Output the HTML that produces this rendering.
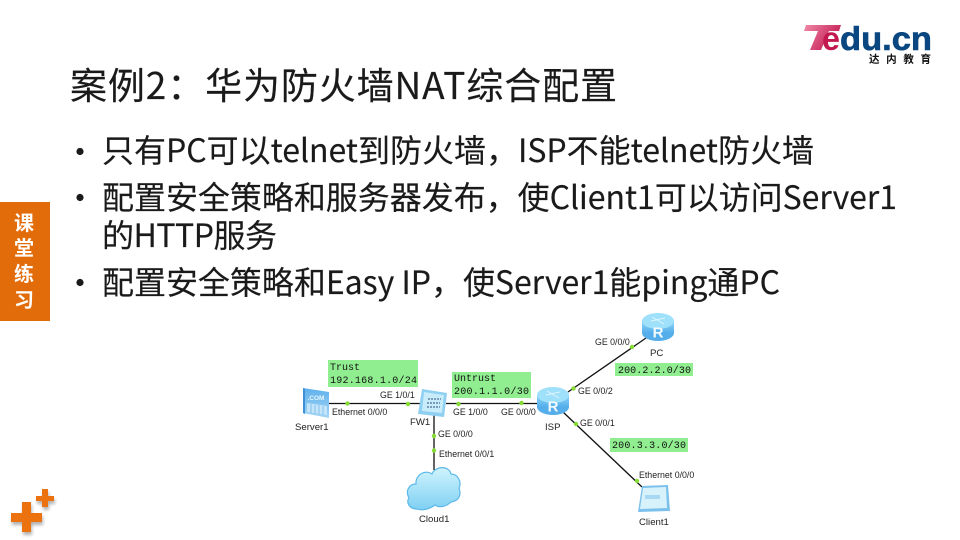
<!DOCTYPE html>
<html lang="zh"><head><meta charset="utf-8"><title>案例2：华为防火墙NAT综合配置</title>
<style>html,body{margin:0;padding:0;background:#fff}svg{display:block}
.c{font-family:"Noto Sans CJK SC","Liberation Sans",sans-serif;fill:#1a1a1a;stroke:#1a1a1a;stroke-width:.15}
.l{font-family:"Liberation Sans",sans-serif;font-size:8.8px;fill:#222}
.n{font-family:"Liberation Sans",sans-serif;font-size:9.6px;fill:#222}
.m{font-family:"Liberation Mono",monospace;font-size:10px;fill:#111}
.w{font-family:"Noto Sans CJK SC",sans-serif;font-size:20px;font-weight:700;fill:#fff}
</style></head><body>
<svg width="960" height="540" viewBox="0 0 960 540" xmlns="http://www.w3.org/2000/svg">
<defs>
<linearGradient id="t" x1="0" y1="0" x2="1" y2="0.5"><stop offset="0" stop-color="#f08aa8"/><stop offset="1" stop-color="#c2184f"/></linearGradient>
<linearGradient id="r" x1="0" y1="0" x2="0" y2="1"><stop offset="0" stop-color="#8fd6f8"/><stop offset="1" stop-color="#55aeea"/></linearGradient>
<linearGradient id="cl" x1="0" y1="0" x2="0" y2="1"><stop offset="0" stop-color="#d0f4fd"/><stop offset="1" stop-color="#7fd0f3"/></linearGradient>
<linearGradient id="sv" x1="0" y1="0" x2="0" y2="1"><stop offset="0" stop-color="#5fb0ec"/><stop offset="1" stop-color="#a5d6f6"/></linearGradient>
<filter id="b" x="-30%" y="-30%" width="160%" height="160%"><feGaussianBlur stdDeviation="1.6"/></filter>
<g id="router"><ellipse cx="16" cy="20" rx="16" ry="8" fill="#55aeea"/><rect x="0" y="8" width="32" height="12" fill="url(#r)"/><ellipse cx="16" cy="8" rx="16" ry="8" fill="#9fe0fa"/><path d="M9 8l14-3M10 4l12 7" stroke="#dff5fe" stroke-width="1" fill="none"/><text x="16" y="24.5" text-anchor="middle" font-family="Liberation Sans,sans-serif" font-weight="700" font-size="15" fill="#f4fbff">R</text></g>
</defs>
<rect width="960" height="540" fill="#fff"/>

<!-- logo -->
<path d="M806 25H841L839 31H829L821 50H810L818 31H804Z" fill="url(#t)"/>
<text x="822" y="50" font-family="Liberation Sans,sans-serif" font-size="33" font-weight="700" fill="#c2184f" textLength="18" lengthAdjust="spacingAndGlyphs">e</text>
<text x="840" y="50" font-family="Liberation Sans,sans-serif" font-size="33" font-weight="700" fill="#0a4680" stroke="#0a4680" stroke-width=".6" textLength="92" lengthAdjust="spacingAndGlyphs">du.cn</text>
<text x="869" y="62.5" font-family="Noto Sans CJK SC,sans-serif" font-size="10.5" font-weight="700" fill="#111" textLength="62">达内教育</text>

<!-- title -->
<text class="c" x="70" y="99" font-size="37" textLength="547">案例2：华为防火墙NAT综合配置</text>

<!-- bullets -->
<circle cx="80" cy="151.5" r="3.6" fill="#1a1a1a"/>
<circle cx="80" cy="197.5" r="3.6" fill="#1a1a1a"/>
<circle cx="80" cy="282.5" r="3.6" fill="#1a1a1a"/>
<g font-size="32">
<text class="c" x="102" y="162" textLength="712">只有PC可以telnet到防火墙，ISP不能telnet防火墙</text>
<text class="c" x="102" y="209" textLength="795">配置安全策略和服务器发布，使Client1可以访问Server1</text>
<text class="c" x="102" y="247" textLength="175">的HTTP服务</text>
<text class="c" x="102" y="294" textLength="678">配置安全策略和Easy IP，使Server1能ping通PC</text>
</g>

<!-- side tab -->
<rect x="0" y="202" width="50" height="119" fill="#e36c0a"/>
<text class="w" x="24" y="230" text-anchor="middle">课</text>
<text class="w" x="24" y="255" text-anchor="middle">堂</text>
<text class="w" x="24" y="281" text-anchor="middle">练</text>
<text class="w" x="24" y="307" text-anchor="middle">习</text>

<!-- plus icons -->
<g fill="#000" opacity=".3" filter="url(#b)" transform="translate(1,3)">
<path d="M22 502h9v11h11v9H31v10h-9V522H11v-9h11z"/>
<path d="M42 489h6v7h6v5h-6v6h-6v-6h-6v-5h6z"/>
</g>
<path d="M22 502h9v11h11v9H31v10h-9V522H11v-9h11z" fill="#ec7210"/>
<path d="M42 489h6v7h6v5h-6v6h-6v-6h-6v-5h6z" fill="#ec7210"/>

<!-- green boxes -->
<rect x="328" y="360" width="90" height="27" fill="#90ee90"/>
<rect x="452" y="372" width="79" height="26" fill="#90ee90"/>
<rect x="615" y="363" width="78" height="13" fill="#90ee90"/>
<rect x="610" y="438" width="78" height="14" fill="#90ee90"/>
<text class="m" x="330" y="370">Trust</text>
<text class="m" x="330" y="383" textLength="87">192.168.1.0/24</text>
<text class="m" x="454" y="381">Untrust</text>
<text class="m" x="454" y="394" textLength="75">200.1.1.0/30</text>
<text class="m" x="618" y="373" textLength="73">200.2.2.0/30</text>
<text class="m" x="612" y="448" textLength="74">200.3.3.0/30</text>

<!-- links -->
<g stroke="#111" stroke-width="1.3" fill="none">
<line x1="329" y1="403.5" x2="420" y2="403.5"/>
<line x1="446" y1="403.5" x2="540" y2="403.5"/>
<line x1="434" y1="415" x2="434" y2="470"/>
<line x1="568" y1="392" x2="646" y2="338"/>
<line x1="563" y1="412" x2="642" y2="487"/>
</g>
<g fill="#86dc35">
<circle cx="347.5" cy="403.5" r="2.2"/><circle cx="408" cy="404" r="2.2"/><circle cx="458.5" cy="404" r="2.2"/><circle cx="521.5" cy="403" r="2.2"/>
<circle cx="434" cy="436" r="2.2"/><circle cx="434" cy="450.5" r="2.2"/><circle cx="573.5" cy="388.5" r="2.2"/><circle cx="632" cy="347" r="2.2"/><circle cx="576" cy="424" r="2.2"/><circle cx="637" cy="481" r="2.2"/>
</g>

<!-- server -->
<path d="M303 388l26 4v26l-26-5z" fill="url(#sv)"/><path d="M303 388l2 1v25l-2-1z" fill="#3e8fd6"/>
<text x="316" y="400" text-anchor="middle" font-family="Liberation Sans,sans-serif" font-weight="700" font-size="6.5" fill="#e6f5ff">.COM</text>
<path d="M307 403l20 3v9l-20-3z" fill="#c4e4f9"/>
<path d="M311 404v9M315 405v9M319 405v9M323 406v9" stroke="#74b8ea" stroke-width=".8"/>

<!-- firewall -->
<path d="M422 389l25 4-3 24-26-3z" fill="#8fcff2"/>
<path d="M424 392l20 3-2 18-20-2z" fill="#c8ecfa"/>
<path d="M428 399h13M427 403h13M427 407h13" stroke="#5f84a8" stroke-width="1.4" stroke-dasharray="2 1"/>

<!-- cloud -->
<path d="M417 509c-8 0-11-7-8-11-4-7 0-14 7-14-1-9 9-15 16-10 3-8 17-9 19 0 7 0 11 8 8 14 3 8-1 13-8 14-5 5-12 6-16 3-5 4-13 6-18 4z" fill="url(#cl)" stroke="#5cb8e8" stroke-width="1.2"/>

<!-- routers -->
<use href="#router" transform="translate(537,387)"/>
<use href="#router" transform="translate(642,313)"/>

<!-- client -->
<path d="M642 486l26-1 2 26-32 1z" fill="#7cc0ec"/><path d="M643 488l23-1 1 21-27 1z" fill="#d8f2fc"/>
<rect x="645" y="495" width="15" height="4" fill="#a9d9f2"/>

<!-- interface labels -->
<text class="l" x="332" y="415">Ethernet 0/0/0</text>
<text class="l" x="380" y="398">GE 1/0/1</text>
<text class="l" x="453" y="415">GE 1/0/0</text>
<text class="l" x="501" y="415">GE 0/0/0</text>
<text class="l" x="438" y="437">GE 0/0/0</text>
<text class="l" x="439" y="457">Ethernet 0/0/1</text>
<text class="l" x="595" y="345">GE 0/0/0</text>
<text class="l" x="578" y="394">GE 0/0/2</text>
<text class="l" x="580" y="426">GE 0/0/1</text>
<text class="l" x="639" y="478">Ethernet 0/0/0</text>
<text class="n" x="295" y="430">Server1</text>
<text class="n" x="410" y="425">FW1</text>
<text class="n" x="419" y="522">Cloud1</text>
<text class="n" x="545" y="430">ISP</text>
<text class="n" x="650" y="356">PC</text>
<text class="n" x="639" y="525">Client1</text>
</svg>
</body></html>
